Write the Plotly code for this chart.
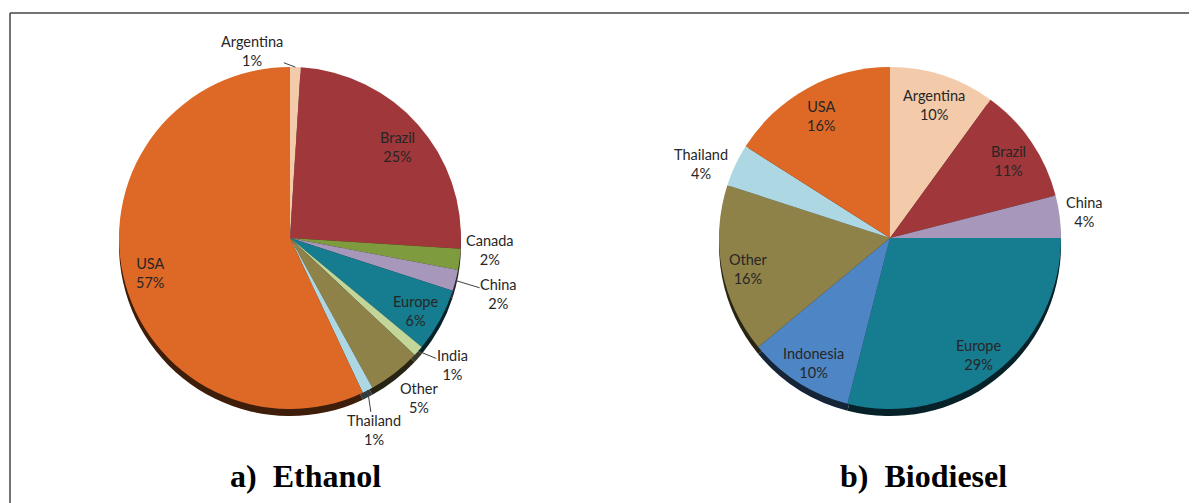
import math
import plotly.graph_objects as go

# ethanol production share (%), clockwise from 12 o'clock
eth_labels = ['Argentina', 'Brazil', 'Canada', 'China', 'Europe', 'India', 'Other', 'Thailand', 'USA']
eth_values = [1, 25, 2, 2, 6, 1, 5, 1, 57]

# biodiesel production share (%)
bio_labels = ['Argentina', 'Brazil', 'China', 'Europe', 'Indonesia', 'Other', 'Thailand', 'USA']
bio_values = [10, 11, 4, 29, 10, 16, 4, 16]

country_colors = {
    'Argentina': '#F3CAAA', 'Brazil': '#A0373A', 'Canada': '#7E9C3E', 'China': '#A797BA',
    'Europe': '#167C8F', 'India': '#C2D69A', 'Other': '#8F8249', 'Thailand': '#ADD8E3',
    'USA': '#DE6926', 'Indonesia': '#4D85C5',
}

# labels drawn outside the pie: (dx, dy) of the text from the slice edge, leader shown?
eth_outside = {
    'Argentina': (-43, -16, True), 'Canada': (30, -9, False), 'China': (43, 13, True),
    'India': (34, 14, True), 'Other': (25, 25, False), 'Thailand': (6, 40, True),
}
bio_outside = {'China': (25, -5, False), 'Thailand': (-34, -1, False)}

W, H = 1197, 503
OFF = 8          # page body margin
R = 171
LABEL_FONT = dict(family='Lato', size=14.5, color='#262626')


def px(x):
    return (x - OFF) / W


def py(y):
    return 1 - (y - OFF) / H


def darken(hexcol, f=0.28):
    h = hexcol.lstrip('#')
    r, g, b = (int(h[i:i + 2], 16) for i in (0, 2, 4))
    return 'rgb(%d,%d,%d)' % (r * f, g * f, b * f)


def dom(cx, cy, dy=0):
    return dict(x=[px(cx - R), px(cx + R)], y=[py(cy + dy + R), py(cy + dy - R)])


fig = go.Figure()


def add_pie(labels, values, cx, cy, outside):
    cols = [country_colors[c] for c in labels]
    # dark copy underneath, shifted down, for the 3D rim
    fig.add_trace(go.Pie(labels=labels, values=values, sort=False, direction='clockwise',
                         domain=dom(cx, cy, 7),
                         marker=dict(colors=[darken(c) for c in cols], line=dict(width=0)),
                         textinfo='none', hoverinfo='skip', showlegend=False))
    fig.add_trace(go.Pie(labels=labels, values=values, sort=False, direction='clockwise',
                         domain=dom(cx, cy), marker=dict(colors=cols, line=dict(width=0)),
                         textinfo='none', showlegend=False))
    total = sum(values)
    run = 0
    for lab, v in zip(labels, values):
        th = math.radians(360 * (run + v / 2) / total)
        run += v
        txt = '%s<br>%d%%' % (lab, round(100 * v / total))
        if lab in outside:
            dx, dy, leader = outside[lab]
            ex, ey = cx + R * math.sin(th), cy - R * math.cos(th)
            fig.add_annotation(x=px(ex), y=py(ey), xref='paper', yref='paper', text=txt,
                               showarrow=True, ax=dx, ay=dy, arrowhead=0, arrowwidth=1,
                               arrowcolor='#404040' if leader else 'rgba(0,0,0,0)',
                               font=LABEL_FONT, borderpad=0)
        else:
            r_in = 0.84 * R
            fig.add_annotation(x=px(cx + r_in * math.sin(th)), y=py(cy - r_in * math.cos(th) + 4),
                               xref='paper', yref='paper', text=txt, showarrow=False,
                               xanchor='center', yanchor='middle', font=LABEL_FONT)


add_pie(eth_labels, eth_values, 290, 238, eth_outside)
add_pie(bio_labels, bio_values, 890, 238, bio_outside)

title_font = dict(family='Liberation Serif', size=32, color='#000000')
fig.add_annotation(x=px(305), y=py(476), xref='paper', yref='paper', showarrow=False,
                   xanchor='center', yanchor='middle',
                   text='<b>a)\u00a0 Ethanol</b>', font=title_font)
fig.add_annotation(x=px(923), y=py(476), xref='paper', yref='paper', showarrow=False,
                   xanchor='center', yanchor='middle',
                   text='<b>b)\u00a0 Biodiesel</b>', font=title_font)

# frame around the figure
fig.add_shape(type='line', xref='paper', yref='paper', x0=px(10), x1=1, y0=py(13), y1=py(13),
              line=dict(color='#454545', width=1.5))
fig.add_shape(type='line', xref='paper', yref='paper', x0=px(10), x1=px(10), y0=0, y1=py(13),
              line=dict(color='#454545', width=1.5))

fig.update_layout(width=W, height=H, margin=dict(l=0, r=0, t=0, b=0),
                  paper_bgcolor='white', plot_bgcolor='white')

fig.write_html("out.html")
